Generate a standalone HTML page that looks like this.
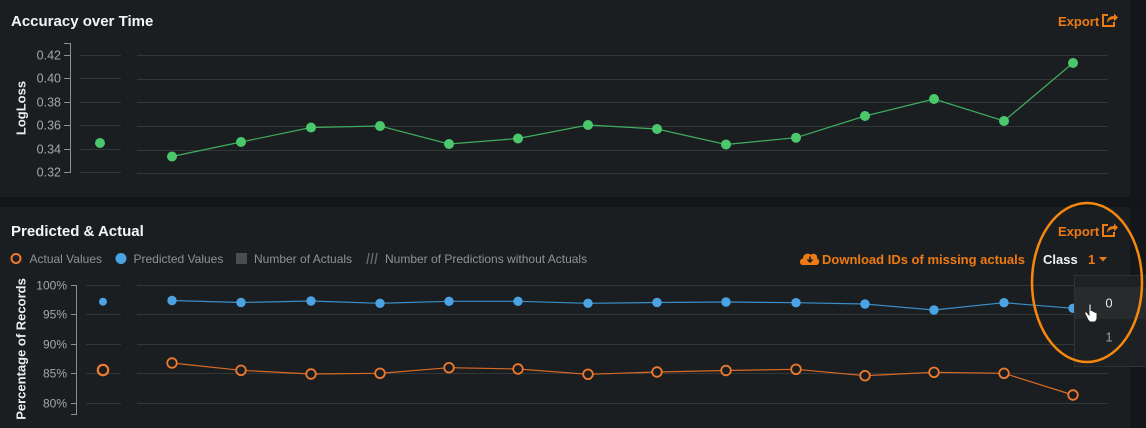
<!DOCTYPE html>
<html><head><meta charset="utf-8"><style>
html,body{margin:0;padding:0;background:#1b1e21;}
svg{display:block;}
text{font-family:"Liberation Sans",Arial,sans-serif;}
</style></head><body>
<svg width="1146" height="428" viewBox="0 0 1146 428" xmlns="http://www.w3.org/2000/svg">
<rect x="0" y="0" width="1146" height="428" fill="#1b1e21"/>
<rect x="1130" y="0" width="16" height="428" fill="#141719"/>
<rect x="0" y="197" width="1146" height="10" fill="#131618"/>

<!-- TOP PANEL -->
<text x="11" y="26" font-size="15" font-weight="bold" fill="#f4f4f4">Accuracy over Time</text>
<text x="1058" y="26" font-size="13" font-weight="bold" fill="#ee7a14">Export</text>
<g fill="none" stroke="#ee7a14" stroke-width="2">
<path d="M1108 15 H1103 V26 H1114 V22"/>
</g>
<path d="M1107 23 C1107 18 1110 16 1114 16 V13.5 L1118 17.5 L1114 21.5 V19 C1111 19 1109 20 1107 23 Z" fill="#ee7a14"/>

<text transform="translate(25.5,108) rotate(-90)" text-anchor="middle" font-size="13" font-weight="bold" fill="#eeeeee">LogLoss</text>

<g stroke="#8a8e92" stroke-width="1" fill="none">
<path d="M64 43.5 H70.5 V172.5 H64"/>
<path d="M64 55.5 H70 M64 78.5 H70 M64 102.5 H70 M64 125.5 H70 M64 149.5 H70"/>
</g>
<g font-size="12.5" fill="#a3a7ab" text-anchor="end">
<text x="61" y="59.5">0.42</text>
<text x="61" y="82.5">0.40</text>
<text x="61" y="106.5">0.38</text>
<text x="61" y="129.5">0.36</text>
<text x="61" y="153.5">0.34</text>
<text x="61" y="176.5">0.32</text>
</g>
<g stroke="#33373a" stroke-width="1">
<path d="M80 55.5 H121 M80 78.5 H121 M80 102.5 H121 M80 125.5 H121 M80 149.5 H121 M80 172.5 H121"/>
<path d="M137 55.5 H1108 M137 79.5 H1108 M137 102.5 H1108 M137 126.5 H1108 M137 150.5 H1108 M137 173.5 H1108"/>
</g>
<polyline fill="none" stroke="#3fae5d" stroke-width="1.2" points="172,156.5 241,142 311,127.5 380,126 449,144 518,138.5 588,125 657,129 726,144.5 796,137.7 865,116 934,99 1004,121 1073,63"/>
<g fill="#4bc86b">
<circle cx="100" cy="143" r="5"/>
<circle cx="172" cy="156.5" r="5"/><circle cx="241" cy="142" r="5"/><circle cx="311" cy="127.5" r="5"/><circle cx="380" cy="126" r="5"/><circle cx="449" cy="144" r="5"/><circle cx="518" cy="138.5" r="5"/><circle cx="588" cy="125" r="5"/><circle cx="657" cy="129" r="5"/><circle cx="726" cy="144.5" r="5"/><circle cx="796" cy="137.7" r="5"/><circle cx="865" cy="116" r="5"/><circle cx="934" cy="99" r="5"/><circle cx="1004" cy="121" r="5"/><circle cx="1073" cy="63" r="5"/>
</g>

<!-- BOTTOM PANEL -->
<text x="11" y="236" font-size="15" font-weight="bold" fill="#f4f4f4">Predicted &amp; Actual</text>
<text x="1058" y="236" font-size="13" font-weight="bold" fill="#ee7a14">Export</text>
<g fill="none" stroke="#ee7a14" stroke-width="2">
<path d="M1108 225 H1103 V236 H1114 V232"/>
</g>
<path d="M1107 233 C1107 228 1110 226 1114 226 V223.5 L1118 227.5 L1114 231.5 V229 C1111 229 1109 230 1107 233 Z" fill="#ee7a14"/>

<!-- legend -->
<circle cx="16" cy="258.5" r="4.5" fill="none" stroke="#ee7a2e" stroke-width="2"/>
<text x="29.5" y="263" font-size="12" fill="#8e9297">Actual Values</text>
<circle cx="121" cy="258.5" r="5.5" fill="#4ba3e3"/>
<text x="133.5" y="263" font-size="12" fill="#8e9297">Predicted Values</text>
<rect x="236" y="253" width="11" height="11" fill="#4a4c4e"/>
<text x="254" y="263" font-size="12" fill="#8e9297">Number of Actuals</text>
<g stroke="#6a6e72" stroke-width="1.3">
<path d="M369 253 L367 264 M373 253 L371 264 M377 253 L375 264"/>
</g>
<text x="385" y="263" font-size="12" fill="#8e9297">Number of Predictions without Actuals</text>

<!-- cloud download -->
<path d="M803 265 C799 265 799 259 803 258.5 C803 254 808 252 811 255 C814 252 818 255 817 258.5 C820 259 820 265 816 265 Z" fill="#ee7a14"/>
<path d="M810 256.5 V261.5 M807.5 259.5 L810 262 L812.5 259.5" stroke="#1b1e21" stroke-width="1.6" fill="none"/>
<text x="822" y="264" font-size="13" font-weight="bold" fill="#ee7a14">Download IDs of missing actuals</text>
<text x="1043" y="264" font-size="13" font-weight="bold" fill="#f2f2f2">Class</text>
<text x="1088" y="264" font-size="13" font-weight="bold" fill="#ee7a14">1</text>
<path d="M1099 257 H1107 L1103 261.5 Z" fill="#ee7a14"/>

<text transform="translate(25.5,349) rotate(-90)" text-anchor="middle" font-size="13" font-weight="bold" fill="#eeeeee">Percentage of Records</text>

<g stroke="#8a8e92" stroke-width="1" fill="none">
<path d="M71 285.5 H76.5 V414.5 H71"/>
<path d="M71 314.5 H76 M71 344.5 H76 M71 373.5 H76 M71 403.5 H76"/>
</g>
<g font-size="12" fill="#a3a7ab" text-anchor="end">
<text x="67" y="289.5">100%</text>
<text x="67" y="318.5">95%</text>
<text x="67" y="348.5">90%</text>
<text x="67" y="377.5">85%</text>
<text x="67" y="407.5">80%</text>
</g>
<g stroke="#33373a" stroke-width="1">
<path d="M86 285.5 H121 M86 314.5 H121 M86 344.5 H121 M86 373.5 H121 M86 403.5 H121"/>
<path d="M137 285.5 H1108 M137 314.5 H1108 M137 344.5 H1108 M137 373.5 H1108 M137 403.5 H1108"/>
</g>

<polyline fill="none" stroke="#3a8fc9" stroke-width="1.2" points="172,300.5 241,302.5 311,301 380,303.3 449,301.3 518,301.3 588,303.3 657,302.5 726,302 796,302.7 865,304 934,310 1004,302.7 1073,308.3"/>
<g fill="#4ba3e3">
<circle cx="103" cy="301.7" r="4"/>
<circle cx="172" cy="300.5" r="4.7"/><circle cx="241" cy="302.5" r="4.7"/><circle cx="311" cy="301" r="4.7"/><circle cx="380" cy="303.3" r="4.7"/><circle cx="449" cy="301.3" r="4.7"/><circle cx="518" cy="301.3" r="4.7"/><circle cx="588" cy="303.3" r="4.7"/><circle cx="657" cy="302.5" r="4.7"/><circle cx="726" cy="302" r="4.7"/><circle cx="796" cy="302.7" r="4.7"/><circle cx="865" cy="304" r="4.7"/><circle cx="934" cy="310" r="4.7"/><circle cx="1004" cy="302.7" r="4.7"/><circle cx="1073" cy="308.3" r="4.7"/>
</g>

<polyline fill="none" stroke="#d96a26" stroke-width="1.2" points="172,363 241,370.3 311,374 380,373.3 449,367.7 518,369 588,374.3 657,372 726,370.5 796,369.3 865,375.7 934,372.3 1004,373.3 1073,395"/>
<g fill="#1b1e21" stroke="#ee7a2e" stroke-width="1.8">
<circle cx="103" cy="370" r="5.2" stroke-width="2.2"/>
<circle cx="172" cy="363" r="4.8"/><circle cx="241" cy="370.3" r="4.8"/><circle cx="311" cy="374" r="4.8"/><circle cx="380" cy="373.3" r="4.8"/><circle cx="449" cy="367.7" r="4.8"/><circle cx="518" cy="369" r="4.8"/><circle cx="588" cy="374.3" r="4.8"/><circle cx="657" cy="372" r="4.8"/><circle cx="726" cy="370.5" r="4.8"/><circle cx="796" cy="369.3" r="4.8"/><circle cx="865" cy="375.7" r="4.8"/><circle cx="934" cy="372.3" r="4.8"/><circle cx="1004" cy="373.3" r="4.8"/><circle cx="1073" cy="395" r="4.8"/>
</g>

<!-- dropdown -->
<rect x="1074.5" y="275.5" width="80" height="91" fill="#1d2124" stroke="#2e3235" stroke-width="1"/>
<rect x="1075" y="287" width="71" height="32" fill="#272b2e"/>
<text x="1109" y="307.5" font-size="13" fill="#e6e6e6" text-anchor="middle">0</text>
<text x="1109" y="341.5" font-size="13" fill="#9a9ea2" text-anchor="middle">1</text>

<!-- hand cursor -->
<path d="M1088 320 L1085 314 C1084 312 1086 311 1087 312.5 L1089 315 V305 C1089 303.5 1091 303.5 1091 305 V311 C1091 310 1093 310 1093 311 V312 C1093 311 1095 311 1095 312 V313 C1095 312 1097 312 1097 313 V318 C1097 320 1096 321 1095 322 H1090 Z" fill="#ffffff" stroke="#222" stroke-width="0.9"/>

<!-- highlight ellipse -->
<ellipse cx="1087" cy="282.5" rx="55" ry="79.5" fill="none" stroke="#f7870f" stroke-width="2.5"/>
</svg>
</body></html>
